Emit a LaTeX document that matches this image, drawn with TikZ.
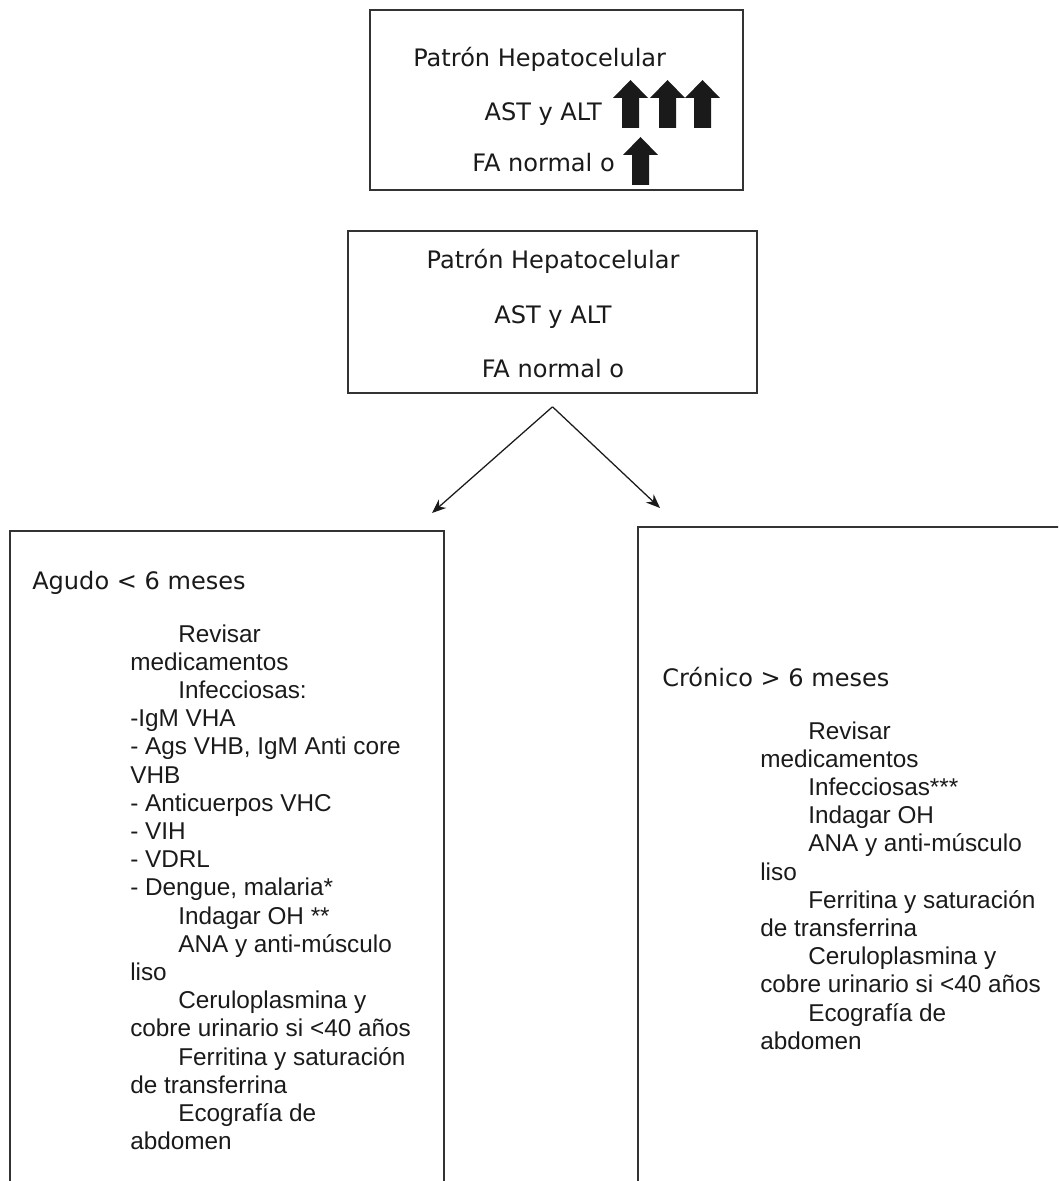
\documentclass[tikz,border=0pt]{standalone}
\usepackage{fontspec}
\usetikzlibrary{arrows.meta,calc}
\newfontfamily\headfont{DejaVu Sans}
\newfontfamily\listfont{Liberation Sans}
\definecolor{flowfg}{HTML}{1A1A1A}
\definecolor{flowline}{HTML}{333333}

\begin{document}
\begin{tikzpicture}[x=0.025cm,y=-0.025cm,>={Stealth[length=10pt,width=8pt]}]
  \tikzstyle{box}=[draw=flowline, line width=1.1pt, inner sep=0pt]
  \tikzstyle{head}=[font=\headfont\fontsize{17.1}{20}\selectfont, text=flowfg, inner sep=0pt]
  \tikzstyle{item}=[font=\listfont\fontsize{17.3}{20}\selectfont, text=flowfg, inner sep=0pt, anchor=base west]
  \tikzstyle{link}=[->, draw=flowfg, line width=0.9pt]
  \tikzset{uparrow/.pic={
    \fill[flowfg] (-8.5,0) -- (-8.5,-30) -- (-17.5,-30) -- (0,-48)
      -- (17.5,-30) -- (8.5,-30) -- (8.5,0) -- cycle;}}

  \useasboundingbox (0,0) rectangle (1058,1181);
  \clip (0,0) rectangle (1058,1181);

  % first box, with the block arrows
  \node[box, minimum width=9.325cm, minimum height=4.5cm] (patron) at (556.5,100) {};
  \node[head, anchor=base west] (patron-t) at (413,67) {Patrón Hepatocelular};
  \node[head, anchor=base east] (patron-ast) at (602,121) {AST y ALT};
  \node[head, anchor=base east] (patron-fa) at (615,172) {FA normal o};
  \foreach \x in {630.5,667.5,702.5}
    \pic at (\x,128) {uparrow};
  \pic at (640.5,185) {uparrow};

  % second box
  \node[box, minimum width=10.225cm, minimum height=4.05cm] (hep) at (552.5,312) {};
  \node[head, anchor=base] (hep-t) at (553,269) {Patrón Hepatocelular};
  \node[head, anchor=base] (hep-ast) at (553,324) {AST y ALT};
  \node[head, anchor=base] (hep-fa) at (553,377) {FA normal o};

  \coordinate (split) at ($(hep.south)+(0,13)$);
  \coordinate (agudo-in) at (432,513);
  \coordinate (cronico-in) at (660,508);
  \draw[link] (split) -- (agudo-in);
  \draw[link] (split) -- (cronico-in);

  % lower boxes, cut by the page edge
  \node[box, minimum width=10.85cm, minimum height=17.225cm] (agudo) at (227,875.5) {};
  \node[box, minimum width=11.55cm, minimum height=17.325cm] (cronico) at (869,873.5) {};
  \node[head, anchor=base west] (agudo-hd) at (32,589) {Agudo < 6 meses};
  \node[head, anchor=base west] (cronico-hd) at (662,686) {Crónico > 6 meses};

  \foreach \i/\ind/\txt in {
    0/1/Revisar, 1/0/medicamentos, 2/1/Infecciosas:, 3/0/-IgM VHA,
    4/0/{- Ags VHB, IgM Anti core}, 5/0/VHB, 6/0/- Anticuerpos VHC,
    7/0/- VIH, 8/0/- VDRL, 9/0/{- Dengue, malaria*}, 10/1/Indagar OH **,
    11/1/ANA y anti-músculo, 12/0/liso, 13/1/Ceruloplasmina y,
    14/0/cobre urinario si <40 años, 15/1/Ferritina y saturación,
    16/0/de transferrina, 17/1/Ecografía de, 18/0/abdomen} {
    \node[item] (agudo-\i) at ({130+48*\ind},{642+28.2*\i}) {\txt};
  }

  \foreach \i/\ind/\txt in {
    0/1/Revisar, 1/0/medicamentos, 2/1/Infecciosas***, 3/1/Indagar OH,
    4/1/ANA y anti-músculo, 5/0/liso, 6/1/Ferritina y saturación,
    7/0/de transferrina, 8/1/Ceruloplasmina y,
    9/0/cobre urinario si <40 años, 10/1/Ecografía de, 11/0/abdomen} {
    \node[item] (cronico-\i) at ({760+48*\ind},{739+28.2*\i}) {\txt};
  }
\end{tikzpicture}
\end{document}
